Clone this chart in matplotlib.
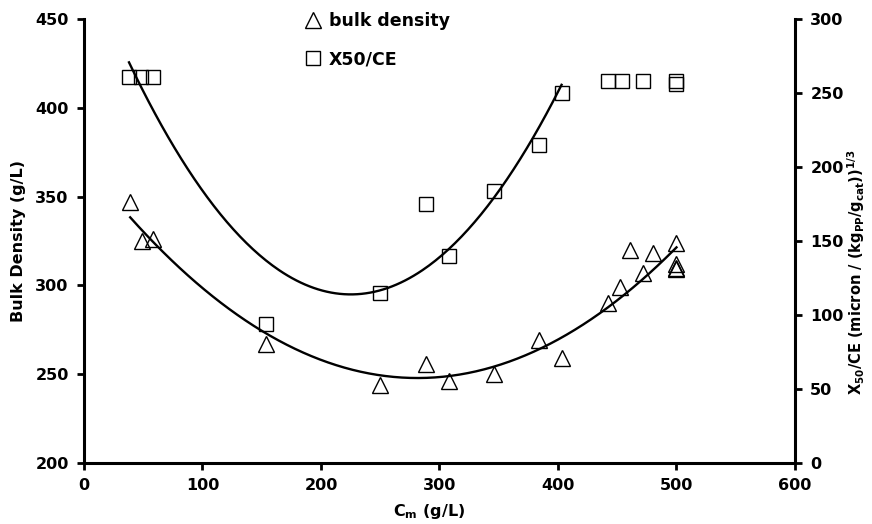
import numpy as np
import matplotlib
matplotlib.use('Agg')
import matplotlib.pyplot as plt

# bulk density (left axis)
cm_density = [39, 49, 58, 154, 250, 289, 308, 346, 384, 403, 442, 452, 461, 472, 480, 500, 500, 500, 500]
bulk_density = [347, 325, 326, 267, 244, 256, 246, 250, 269, 259, 290, 299, 320, 307, 318, 324, 312, 310, 309]

# X50/CE (right axis)
cm_x50 = [38, 48, 58, 154, 250, 289, 308, 346, 384, 403, 442, 454, 472, 500, 500]
x50_ce = [261, 261, 261, 94, 115, 175, 140, 184, 215, 250, 258, 258, 258, 258, 256]
x50_fit_count = 10  # trendline only uses points up to 403 g/L

plt.rcParams['font.family'] = ['DejaVu Sans']
plt.rcParams['font.weight'] = 'bold'
plt.rcParams['mathtext.fontset'] = 'custom'
plt.rcParams['mathtext.rm'] = 'DejaVu Sans:bold'
plt.rcParams['mathtext.it'] = 'DejaVu Sans:bold'
plt.rcParams['mathtext.bf'] = 'DejaVu Sans:bold'

fig = plt.figure(figsize=(8.72, 5.24), dpi=100)
ax = fig.add_axes([0.0963, 0.1164, 0.8154, 0.8473])
ax2 = ax.twinx()

# trendlines (2nd order polynomial fits of the data)
c1 = np.polyfit(cm_density, bulk_density, 2)
xs1 = np.linspace(min(cm_density), max(cm_density), 200)
ax.plot(xs1, np.polyval(c1, xs1), color='black', lw=1.7, zorder=2)

c2 = np.polyfit(cm_x50[:x50_fit_count], x50_ce[:x50_fit_count], 2)
xs2 = np.linspace(min(cm_x50[:x50_fit_count]), max(cm_x50[:x50_fit_count]), 200)
ax2.plot(xs2, np.polyval(c2, xs2), color='black', lw=1.7, zorder=2)

h1, = ax.plot(cm_density, bulk_density, '^', ms=11, mfc='none', mec='black', mew=1.0,
              ls='none', label='bulk density', zorder=3)
h2, = ax2.plot(cm_x50, x50_ce, 's', ms=10.5, mfc='none', mec='black', mew=1.0,
               ls='none', label='X50/CE', zorder=3)

ax.set_xlim(0, 600)
ax.set_ylim(200, 450)
ax2.set_ylim(0, 300)
ax.set_xticks(range(0, 601, 100))
ax.set_yticks(range(200, 451, 50))
ax2.set_yticks(range(0, 301, 50))

for a in (ax, ax2):
    a.spines['top'].set_visible(False)
    for s in a.spines.values():
        s.set_linewidth(2.2)
    a.tick_params(width=2, length=5, labelsize=11.5, pad=6)
ax.spines['right'].set_visible(False)
ax2.spines['left'].set_visible(False)
ax2.spines['bottom'].set_visible(False)

ax.set_ylabel('Bulk Density (g/L)', fontsize=11.5, fontweight='bold')
ax.yaxis.set_label_coords(-0.081, 0.5)
ax.set_xlabel('C$_{\\mathrm{m}}$ (g/L)', fontsize=11.5, fontweight='bold')
ax.xaxis.set_label_coords(0.485, -0.088)
ax2.set_ylabel('X$_{50}$/CE (micron / (kg$_{PP}$/g$_{cat}$))$^{1/3}$',
               fontsize=10.5, fontweight='bold')
ax2.yaxis.set_label_coords(1.071, 0.43)

fig.legend([h1, h2], ['bulk density', 'X50/CE'], loc='upper left',
           bbox_to_anchor=(0.333, 1.006), frameon=False,
           handlelength=0.8, handletextpad=0.5, labelspacing=1.15,
           prop={'weight': 'bold', 'size': 12.5})

fig.savefig('out.png', dpi=100)
